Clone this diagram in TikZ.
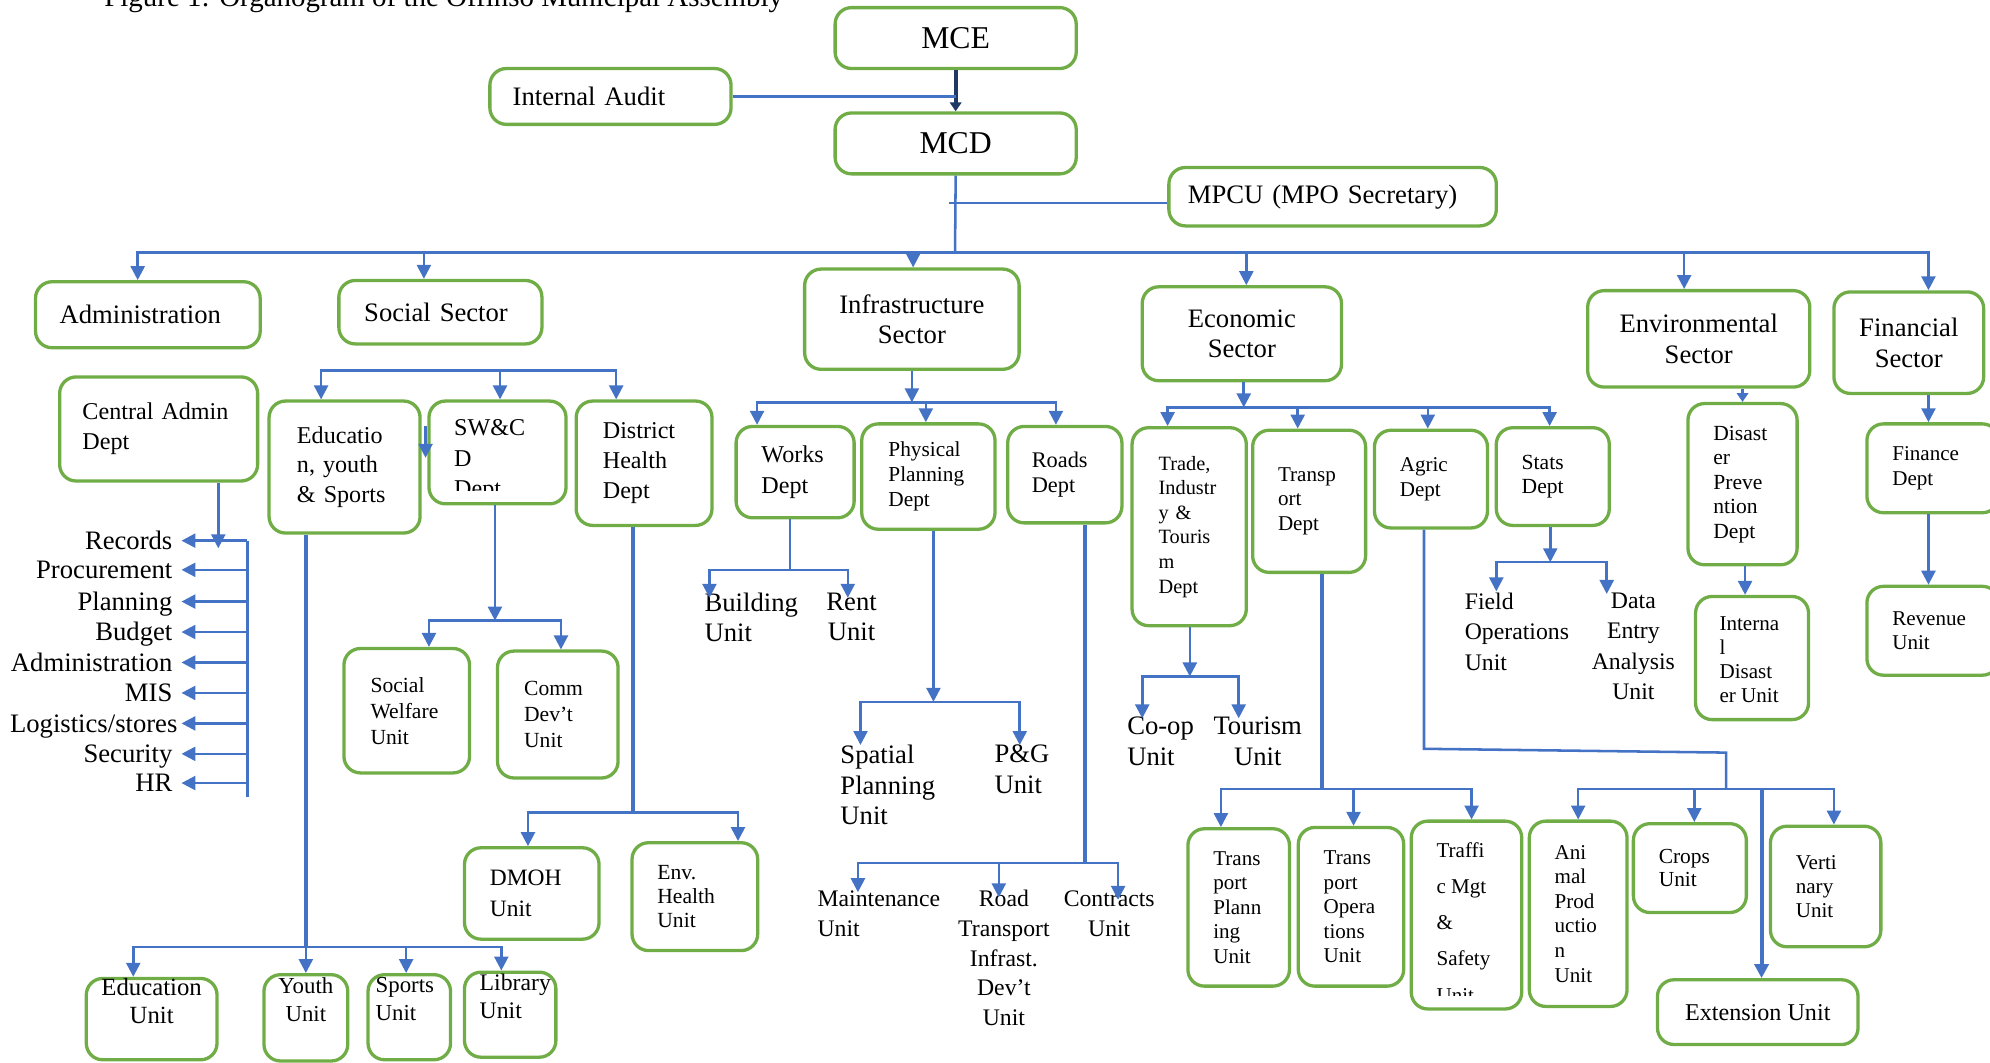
\documentclass[tikz,border=0pt]{standalone}
\usepackage{fontspec}
\setmainfont{Liberation Serif}
\usetikzlibrary{arrows.meta}
\definecolor{boxgreen}{HTML}{70AD47}
\definecolor{linkblue}{HTML}{4472C4}
\definecolor{navy}{HTML}{1F3864}
\hyphenpenalty=10000
\exhyphenpenalty=10000

\begin{document}
\begin{tikzpicture}[x=1pt,y=-1pt,>={Triangle[length=11pt,width=11pt]},
    org box/.style={draw=boxgreen,line width=2.6pt,rounded corners=13pt,inner sep=0pt},
    big text/.style={font=\fontsize{21}{24}\selectfont},
    mid text/.style={font=\fontsize{19}{23.5}\selectfont},
    small text/.style={font=\fontsize{16.6}{19.3}\selectfont},
    free text/.style={big text,inner sep=0pt,align=left},
    cut text/.style={anchor=north west,inner sep=0pt,align=left},
    list item/.style={big text,anchor=east,inner sep=0pt,text height=15pt,text depth=1pt},
    link/.style={draw=linkblue,line width=2pt},
    thick link/.style={draw=linkblue,line width=3.2pt}]

  \useasboundingbox (0,0) rectangle (1568,837);
  \node[anchor=base west,inner sep=0pt,font=\fontsize{22.8}{27}\selectfont] at (82,5.2) (title) {Figure 1: Organogram of the Offinso Municipal Assembly};

  % top of the chart
  \node[org box,font=\fontsize{25}{28}\selectfont,minimum width=190pt,minimum height=48pt] at (753,30) (mce) {MCE};
  \node[org box,font=\fontsize{25}{28}\selectfont,minimum width=190pt,minimum height=48pt] at (753,113) (mcd) {MCD};
  \node[org box,big text,minimum width=190pt,minimum height=44pt,text width=154pt,align=left] at (481,76) (audit) {Internal Audit};
  \node[org box,big text,minimum width=258pt,minimum height=46pt,text width=228pt,align=left] at (1050,155) (mpcu) {MPCU (MPO Secretary)};

  % sectors
  \node[org box,big text,minimum width=177pt,minimum height=52pt,text width=139pt,align=left] at (116.5,248) (admin) {Administration};
  \node[org box,big text,minimum width=160pt,minimum height=50pt,text width=120pt,align=left] at (347,246) (social) {Social Sector};
  \node[org box,big text,minimum width=169pt,minimum height=79pt,align=center] at (718.5,251.5) (infra) {Infrastructure\\Sector};
  \node[org box,big text,minimum width=157pt,minimum height=74pt,align=center] at (978.5,263) (econ) {Economic\\Sector};
  \node[org box,big text,minimum width=175pt,minimum height=76pt,align=center] at (1338.5,267) (env) {Environmental\\Sector};
  \node[org box,big text,minimum width=118pt,minimum height=80pt,align=center] at (1504,270) (fin) {Financial\\Sector};

  % administration
  \node[org box,mid text,minimum width=156pt,minimum height=82pt,text width=120pt,align=left] at (125,338) (cad) {Central Admin\\Dept};
  \node[list item] at (136,426) (records) {Records};
  \node[list item] at (136,449) (procurement) {Procurement};
  \node[list item] at (136,474) (planning) {Planning};
  \node[list item] at (136,498) (budget) {Budget};
  \node[list item] at (136,522) (administration) {Administration};
  \node[list item] at (136,546) (mis) {MIS};
  \node[list item] at (140,570) (logistics) {Logistics/stores};
  \node[list item] at (136,594) (security) {Security};
  \node[list item] at (136,617) (hr) {HR};

  % social sector
  \node[org box,mid text,minimum width=119pt,minimum height=104pt,text width=75pt,align=left] at (271.5,368) (edu) {Educatio\\n, youth\\\& Sports};
  \node[org box,minimum width=108pt,minimum height=81pt] at (392,356.5) (sw) {};
  \begin{scope}
    \clip (sw.north west) rectangle ([yshift=12pt]sw.south east);
    \node[cut text,font=\fontsize{19}{24}\selectfont] at ([shift={(21,16)}]sw.north west) (swcd text) {SW\&C\\D\\Dept};
  \end{scope}
  \node[org box,mid text,minimum width=107pt,minimum height=98pt,text width=65pt,align=left] at (507.5,365) (dhd) {District\\Health\\Dept};
  \node[org box,font=\fontsize{17}{20.5}\selectfont,minimum width=99pt,minimum height=98pt,text width=57pt,align=left] at (320.5,560) (welfare) {Social\\Welfare\\Unit};
  \node[org box,font=\fontsize{17}{20.5}\selectfont,minimum width=95pt,minimum height=100pt,text width=53pt,align=left] at (439.5,563) (comm) {Comm\\Dev’t\\Unit};
  \node[org box,font=\fontsize{18.5}{24}\selectfont,minimum width=106pt,minimum height=72pt,text width=66pt,align=left] at (419,704) (dmoh) {DMOH\\Unit};
  \node[org box,font=\fontsize{17}{19}\selectfont,minimum width=99pt,minimum height=85pt,text width=59pt,align=left] at (547.5,706.5) (envh) {Env.\\Health\\Unit};
  \node[org box,font=\fontsize{19.5}{22}\selectfont,minimum width=103pt,minimum height=58pt,align=center] at (119.5,803) (eduunit) {Education\\Unit\\\strut};
  \node[org box,font=\fontsize{18}{22}\selectfont,minimum width=66pt,minimum height=68pt,align=center] at (241,802) (youth) {Youth\\Unit\\\strut};
  \node[org box,font=\fontsize{18}{22}\selectfont,minimum width=65pt,minimum height=67pt,text width=53pt,align=left] at (322.5,801.5) (sports) {Sports\\Unit\\\strut};
  \node[org box,font=\fontsize{18.7}{22}\selectfont,minimum width=72pt,minimum height=67pt,text width=48pt,align=left] at (402,799.5) (library) {Library\\Unit\\\strut};

  % infrastructure sector
  \node[org box,font=\fontsize{19}{24}\selectfont,minimum width=93pt,minimum height=72pt,text width=53pt,align=left] at (626.5,372) (works) {Works\\Dept};
  \node[org box,font=\fontsize{16.8}{19.5}\selectfont,minimum width=105pt,minimum height=83pt,text width=63pt,align=left] at (731.5,375.5) (phys) {Physical\\Planning\\Dept};
  \node[org box,font=\fontsize{17.6}{20}\selectfont,minimum width=90pt,minimum height=76pt,text width=52pt,align=left] at (839,374) (roads) {Roads\\Dept};
  \node[free text,anchor=north west] at (555,467) (building) {Building\\Unit};
  \node[free text,anchor=north,align=center] at (671,467) (rent) {Rent\\Unit};
  \node[free text,anchor=north west] at (662,587) (spatial) {Spatial\\Planning\\Unit};
  \node[free text,anchor=north west] at (783.5,587) (pg) {P\&G\\Unit};
  \node[free text,font=\fontsize{18.7}{23.5}\selectfont,anchor=north west] at (644,702) (maint) {Maintenance\\Unit};
  \node[free text,font=\fontsize{18.7}{23.5}\selectfont,anchor=north,align=center] at (791,701) (rtid) {Road\\Transport\\Infrast.\\Dev’t\\Unit};
  \node[free text,font=\fontsize{18.7}{23.5}\selectfont,anchor=north,align=center] at (874,702) (contracts) {Contracts\\Unit};

  % economic sector
  \node[org box,font=\fontsize{16}{19.4}\selectfont,minimum width=90pt,minimum height=156pt,text width=48pt,align=left] at (937,415) (trade) {Trade,\\Industr\\y \&\\Touris\\m\\Dept};
  \node[org box,small text,minimum width=89pt,minimum height=112pt,text width=49pt,align=left] at (1031.5,395) (transp) {Transp\\ort\\Dept};
  \node[org box,small text,minimum width=89pt,minimum height=77pt,text width=49pt,align=left] at (1127.5,377.5) (agric) {Agric\\Dept};
  \node[org box,font=\fontsize{17}{19}\selectfont,minimum width=89pt,minimum height=77pt,text width=49pt,align=left] at (1223.5,375.5) (stats) {Stats\\Dept};
  \node[free text,anchor=north west] at (888,565) (coop) {Co-op\\Unit};
  \node[free text,anchor=north,align=center] at (991,565) (tourism) {Tourism\\Unit};
  \node[free text,font=\fontsize{18.7}{24}\selectfont,anchor=north west] at (1154,467) (field) {Field\\Operations\\Unit};
  \node[free text,font=\fontsize{18.7}{24}\selectfont,anchor=north,align=center] at (1287,467) (data) {Data\\Entry\\Analysis\\Unit};
  \node[org box,small text,minimum width=80pt,minimum height=124pt,text width=40pt,align=left] at (976,715) (tpu) {Trans\\port\\Plann\\ing\\Unit};
  \node[org box,small text,minimum width=83pt,minimum height=125pt,text width=43pt,align=left] at (1064.5,714.5) (tou) {Trans\\port\\Opera\\tions\\Unit};
  \node[org box,minimum width=87pt,minimum height=148pt] at (1155.5,721) (traffic) {};
  \begin{scope}
    \clip (traffic.north west) rectangle ([yshift=12pt]traffic.south east);
    \node[cut text,font=\fontsize{16.6}{28.5}\selectfont] at ([shift={(21,18)}]traffic.north west) (traffic text) {Traffi\\c Mgt\\\&\\Safety\\Unit};
  \end{scope}
  \node[org box,font=\fontsize{16.6}{19.4}\selectfont,minimum width=77pt,minimum height=146pt,text width=37pt,align=left] at (1243.5,720) (animal) {Ani\\mal\\Prod\\uctio\\n\\Unit};
  \node[org box,font=\fontsize{16.9}{18.5}\selectfont,minimum width=89pt,minimum height=70pt,text width=49pt,align=left] at (1331.5,684) (crops) {Crops\\Unit};
  \node[org box,font=\fontsize{16.6}{19}\selectfont,minimum width=87pt,minimum height=95pt,text width=47pt,align=left] at (1438.5,698.5) (vert) {Verti\\nary\\Unit};
  \node[org box,font=\fontsize{19}{22}\selectfont,minimum width=158pt,minimum height=51pt,align=center] at (1385,797.5) (ext) {Extension Unit};

  % environmental and financial sectors
  \node[org box,font=\fontsize{17}{19.3}\selectfont,minimum width=86pt,minimum height=127pt,text width=46pt,align=left] at (1373,381.5) (dis) {Disast\\er\\Preve\\ntion\\Dept};
  \node[org box,minimum width=89pt,minimum height=97pt] at (1380.5,518.5) (intdis) {};
  \begin{scope}
    \clip (intdis.north west) rectangle ([yshift=11pt]intdis.south east);
    \node[cut text,font=\fontsize{16.6}{19}\selectfont] at ([shift={(20,17)}]intdis.north west) (intdis text) {Interna\\l\\Disast\\er Unit};
  \end{scope}
  \node[org box,font=\fontsize{16.6}{19}\selectfont,minimum width=104pt,minimum height=70pt,text width=64pt,align=left] at (1523,369) (finance) {Finance\\Dept};
  \node[org box,font=\fontsize{16.6}{19}\selectfont,minimum width=104pt,minimum height=70pt,text width=64pt,align=left] at (1523,497) (revenue) {Revenue\\Unit};

  % connectors at the top
  \coordinate (top bus) at (752.5,199);
  \coordinate (mpcu link) at (748,160);
  \draw[navy,line width=3pt,-{Triangle[length=7pt,width=9pt]}] (mce) -- (mcd);
  \draw[link] (audit.east) -- (audit.east -| mce.south);
  \draw[link] (mpcu.west |- mpcu link) -- (mpcu link);
  \draw[link] (mcd.south) -- (top bus);
  \draw[link,->] (top bus) -| ([xshift=-8pt]admin.north);
  \draw[link,->] (top bus) -| ([xshift=-13pt]social.north);
  \draw[link,->] (top bus) -| ([xshift=1pt]infra.north);
  \draw[link,->] (top bus) -| ([xshift=3.5pt]econ.north);
  \draw[link,->] (top bus) -| ([xshift=-11.5pt]env.north);
  \draw[link,->] (top bus) -| ([xshift=15.5pt]fin.north);

  % administration list
  \coordinate (cad tip) at (172,432);
  \coordinate (list bus) at (195,426);
  \coordinate (list end) at (195,628);
  \coordinate (list tip) at (143,426);
  \draw[link,->] (cad.south -| cad tip) -- (cad tip);
  \draw[link] (list bus) -- (list end);
  \draw[link,->] (records.east -| list bus) -- (records.east -| list tip);
  \draw[link,->] (procurement.east -| list bus) -- (procurement.east -| list tip);
  \draw[link,->] (planning.east -| list bus) -- (planning.east -| list tip);
  \draw[link,->] (budget.east -| list bus) -- (budget.east -| list tip);
  \draw[link,->] (administration.east -| list bus) -- (administration.east -| list tip);
  \draw[link,->] (mis.east -| list bus) -- (mis.east -| list tip);
  \draw[link,->] (logistics.east -| list bus) -- (logistics.east -| list tip);
  \draw[link,->] (security.east -| list bus) -- (security.east -| list tip);
  \draw[link,->] (hr.east -| list bus) -- (hr.east -| list tip);

  % social sector connectors
  \coordinate (soc bus) at (394,292);
  \coordinate (sw bus) at (390,489);
  \coordinate (dh bus) at (498.5,640);
  \coordinate (edu bus) at (241,746);
  \draw[link,->] (soc bus) -| ([xshift=-18.5pt]edu.north);
  \draw[link,->] (soc bus) -| ([xshift=2pt]sw.north);
  \draw[link,->] (soc bus) -| ([xshift=-22pt]dhd.north);
  \draw[link,->] ([shift={(3,21)}]edu.north east) -- ([shift={(3,46)}]edu.north east);
  \draw[link,->] (sw.south -| sw bus) -- (sw bus);
  \draw[link,->] (sw bus) -| ([xshift=17.5pt]welfare.north);
  \draw[link,->] (sw bus) -| ([xshift=2.5pt]comm.north);
  \draw[thick link] (dhd.south -| dh bus) -- (dh bus);
  \draw[link,->] (dh bus) -| ([xshift=-3pt]dmoh.north);
  \draw[link,->] (dh bus) -| ([xshift=34pt]envh.north);
  \draw[thick link] (edu.south -| edu bus) -- (edu bus);
  \draw[link,->] (edu bus) -| ([xshift=-14.5pt]eduunit.north);
  \draw[link,->] (edu bus) -- (youth.north);
  \draw[link,->] (edu bus) -| ([xshift=-2.5pt]sports.north);
  \draw[link,->] (edu bus) -| ([xshift=-7pt]library.north);

  % infrastructure connectors
  \coordinate (inf bus) at (718.5,317);
  \coordinate (works bus) at (622.5,449);
  \coordinate (phys bus) at (735.5,553);
  \coordinate (roads bus) at (855,680);
  \draw[link,->] (infra.south) -- (inf bus);
  \draw[link,->] (inf bus) -| ([xshift=-30pt]works.north);
  \draw[link,->] (inf bus) -| ([xshift=-2pt]phys.north);
  \draw[link,->] (inf bus) -| ([xshift=-7pt]roads.north);
  \draw[link] (works.south -| works bus) -- (works bus);
  \draw[link,->] (works bus) -| ([shift={(4,4)}]building.north west);
  \draw[link,->] (works bus) -| ([shift={(-3,4)}]rent.north);
  \draw[link,->] (phys.south -| phys bus) -- (phys bus);
  \draw[link,->] (phys bus) -| ([shift={(16,0)}]spatial.north west);
  \draw[link,->] (phys bus) -| ([shift={(20,0)}]pg.north west);
  \draw[thick link] (roads.south -| roads bus) -- (roads bus);
  \draw[link,->] (roads bus) -| ([shift={(32,1)}]maint.north west);
  \draw[link,->] (roads bus) -| ([shift={(-4,6)}]rtid.north);
  \draw[link,->] (roads bus) -| ([shift={(7,7)}]contracts.north);

  % economic connectors
  \coordinate (eco bus) at (980,321);
  \coordinate (trade bus) at (937.5,533);
  \coordinate (tr bus) at (1041.5,621.5);
  \coordinate (stats bus) at (1221.5,443);
  \coordinate (agric turn) at (1122,590);
  \coordinate (agric bend) at (1360,593);
  \coordinate (agric bus) at (1360,621.5);
  \coordinate (ext top) at (1388,621.5);
  \draw[link,->] (econ.south -| eco bus) -- (eco bus);
  \draw[link,->] (eco bus) -| ([xshift=-17pt]trade.north);
  \draw[link,->] (eco bus) -| ([xshift=-9pt]transp.north);
  \draw[link,->] (eco bus) -| ([xshift=-2.5pt]agric.north);
  \draw[link,->] (eco bus) -| ([xshift=-2.5pt]stats.north);
  \draw[link,->] (trade.south -| trade bus) -- (trade bus);
  \draw[link,->] (trade bus) -| ([shift={(12,1)}]coop.north west);
  \draw[link,->] (trade bus) -| ([shift={(-15,1)}]tourism.north);
  \draw[thick link] (transp.south -| tr bus) -- (tr bus);
  \draw[link,->] (tr bus) -| ([xshift=-14pt]tpu.north);
  \draw[link,->] (tr bus) -| ([xshift=2pt]tou.north);
  \draw[link,->] (tr bus) -| ([xshift=4pt]traffic.north);
  \draw[link,->] (stats.south -| stats bus) -- (stats bus);
  \draw[link,->] (stats bus) -| ([shift={(25,-1)}]field.north west);
  \draw[link,->] (stats bus) -| ([shift={(-21,1)}]data.north);
  \draw[link] (agric.south -| agric turn) -- (agric turn) -- (agric bend) -- (agric bus);
  \draw[link,->] (agric bus) -| (animal.north);
  \draw[link,->] (agric bus) -| ([xshift=3.5pt]crops.north);
  \draw[link,->] (agric bus) -| ([xshift=6.5pt]vert.north);
  \draw[thick link,->] (ext top) -- (ext top |- ext.north);

  % environmental and financial connectors
  \draw[link,-{Triangle[length=7pt,width=9pt]}] ([xshift=34.5pt]env.south) -- (dis.north);
  \draw[link,->] ([xshift=2pt]dis.south) -- ([xshift=-5.5pt]intdis.north);
  \draw[link,->] ([xshift=15.5pt]fin.south) -- ([xshift=-3.5pt]finance.north);
  \draw[link,->] ([xshift=-3.5pt]finance.south) -- ([xshift=-3.5pt]revenue.north);

\end{tikzpicture}
\end{document}
